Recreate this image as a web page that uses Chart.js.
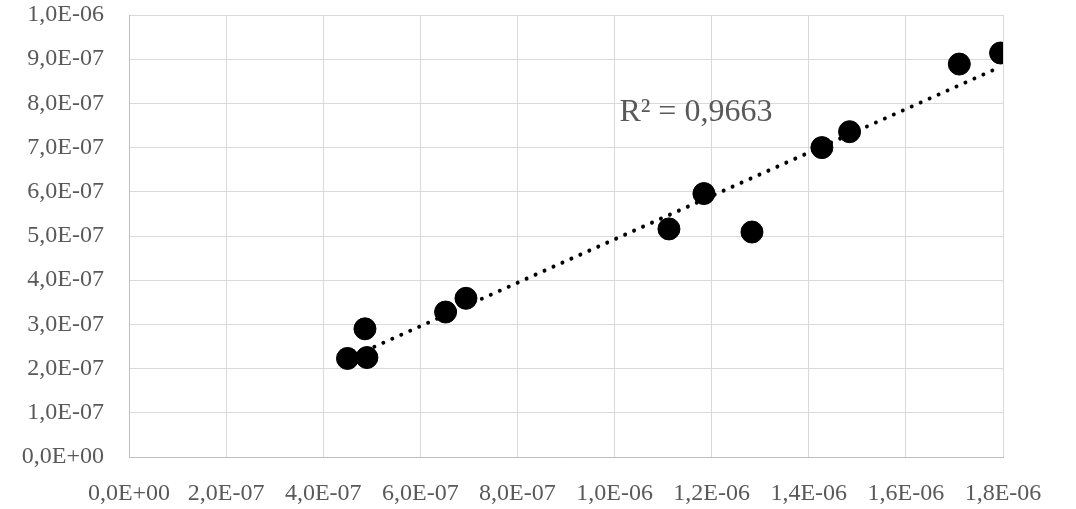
<!DOCTYPE html>
<html>
<head>
<meta charset="utf-8">
<script src="https://cdn.jsdelivr.net/npm/chart.js@4"></script>
<style>
html,body{margin:0;padding:0;background:#fff;}
#wrap{width:1076px;height:509px;position:relative;}
</style>
</head>
<body>
<div id="wrap"><canvas id="c"></canvas></div>
<script>
// measured values (x, y)
const xVals=[4.50e-7,4.90e-7,4.86e-7,6.52e-7,6.94e-7,1.112e-6,1.184e-6,1.283e-6,1.427e-6,1.484e-6,1.710e-6,1.795e-6];
const yVals=[2.23e-7,2.25e-7,2.90e-7,3.28e-7,3.59e-7,5.16e-7,5.96e-7,5.09e-7,7.00e-7,7.36e-7,8.89e-7,9.14e-7];
const xTicks=[0,2e-7,4e-7,6e-7,8e-7,1e-6,1.2e-6,1.4e-6,1.6e-6,1.8e-6];
const yTicks=[0,1e-7,2e-7,3e-7,4e-7,5e-7,6e-7,7e-7,8e-7,9e-7,1e-6];
const r2Label='R² = 0,9663';
const r2At={x:1.01e-6,y:7.8e-7};

const FONT='"Liberation Serif", "DejaVu Serif", serif';
const GREY='#595959';

function fmt(v){
  let [m,e]=Number(v).toExponential(1).split('e');
  let n=parseInt(e,10); const s=n<0?'-':'+'; n=Math.abs(n);
  return m.replace('.',',')+'E'+s+(n<10?'0':'')+n;
}

// least squares trendline
function trend(){
  const n=xVals.length; let sx=0,sy=0,sxx=0,sxy=0;
  for(let i=0;i<n;i++){sx+=xVals[i];sy+=yVals[i];sxx+=xVals[i]*xVals[i];sxy+=xVals[i]*yVals[i];}
  const b=(n*sxy-sx*sy)/(n*sxx-sx*sx), a=(sy-b*sx)/n;
  const x0=Math.min(...xVals), x1=Math.max(...xVals);
  return [{x:x0,y:a+b*x0},{x:x1,y:a+b*x1}];
}

const r2Plugin={id:'r2',afterDatasetsDraw(chart){
  const {ctx,scales}=chart;
  ctx.save(); ctx.font='32px '+FONT; ctx.fillStyle=GREY; ctx.textAlign='left'; ctx.textBaseline='middle';
  ctx.fillText(r2Label,scales.x.getPixelForValue(r2At.x),scales.y.getPixelForValue(r2At.y));
  ctx.restore();
}};

new Chart(document.getElementById('c'),{
  type:'scatter',
  data:{datasets:[
    {data:xVals.map((x,i)=>({x,y:yVals[i]})),backgroundColor:'#000',borderColor:'#000',pointRadius:11,pointHoverRadius:11,order:1},
    {data:trend(),showLine:true,pointRadius:0,borderColor:'#000',borderWidth:4,borderCapStyle:'round',borderDash:[0.01,9.8],order:2}
  ]},
  options:{
    responsive:true,maintainAspectRatio:false,animation:false,
    layout:{padding:{top:15,right:73,left:0,bottom:0}},
    plugins:{legend:{display:false},tooltip:{enabled:false}},
    scales:{
      x:{type:'linear',min:0,max:1.8e-6,
        afterBuildTicks:s=>{s.ticks=xTicks.map(v=>({value:v}));},
        afterFit:s=>{s.height=52;s.paddingLeft=0;s.paddingRight=0;},
        grid:{color:'#d9d9d9',drawTicks:false},border:{color:'#bfbfbf'},
        ticks:{padding:22,color:GREY,font:{family:FONT,size:24},callback:v=>fmt(v),maxRotation:0,autoSkip:false}},
      y:{type:'linear',min:0,max:1e-6,
        afterBuildTicks:s=>{s.ticks=yTicks.map(v=>({value:v}));},
        afterFit:s=>{s.width=129;s.paddingTop=0;s.paddingBottom=0;},
        grid:{color:'#d9d9d9',drawTicks:false},border:{color:'#bfbfbf'},
        ticks:{padding:25,color:GREY,font:{family:FONT,size:24},callback:v=>fmt(v),autoSkip:false}}
    }
  },
  plugins:[r2Plugin]
});
</script>
</body>
</html>
